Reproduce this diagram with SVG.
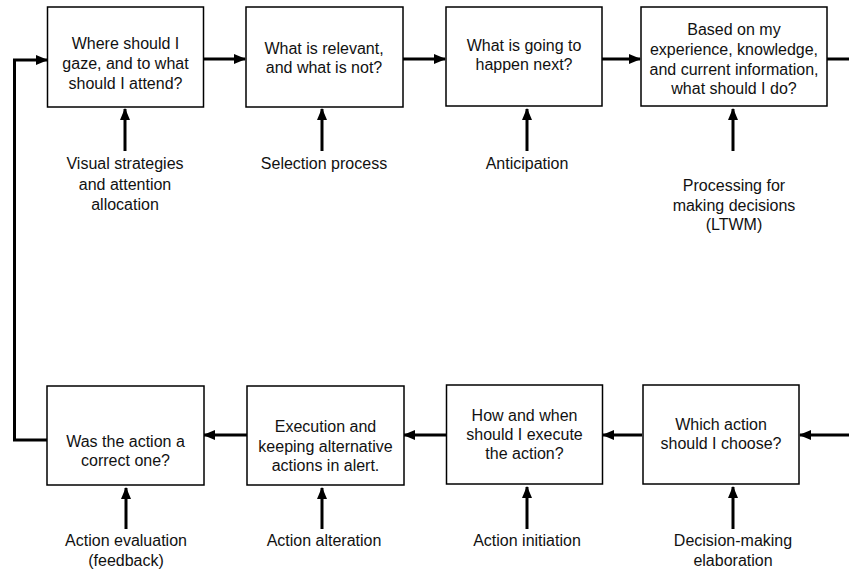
<svg xmlns="http://www.w3.org/2000/svg" width="849" height="571" viewBox="0 0 849 571">
<style>
.box{fill:#fff;stroke:#000;stroke-width:1.5}
.t{font-family:"Liberation Sans",Arial,sans-serif;font-size:16px;fill:#111;text-anchor:middle}
.c{fill:none;stroke:#000;stroke-width:3}
</style>
<defs>
<marker id="ah" viewBox="0 0 12 10" refX="11" refY="5" markerWidth="12" markerHeight="10" markerUnits="userSpaceOnUse" orient="auto">
<path d="M0,0 L12,5 L0,10 Z" fill="#000"/>
</marker>
</defs>
<rect width="849" height="571" fill="#fff"/>
<g id="connectors">
<line class="c" x1="204" y1="59" x2="245" y2="59" marker-end="url(#ah)"/>
<line class="c" x1="403" y1="59" x2="445" y2="59" marker-end="url(#ah)"/>
<line class="c" x1="602" y1="59" x2="640" y2="59" marker-end="url(#ah)"/>
<line class="c" x1="827" y1="59" x2="849" y2="59"/>
<line class="c" x1="849" y1="435" x2="800" y2="435" marker-end="url(#ah)"/>
<line class="c" x1="642" y1="435" x2="603" y2="435" marker-end="url(#ah)"/>
<line class="c" x1="446" y1="435" x2="404" y2="435" marker-end="url(#ah)"/>
<line class="c" x1="247" y1="435" x2="204" y2="435" marker-end="url(#ah)"/>
<polyline class="c" points="47,440 14.5,440 14.5,60 47,60" marker-end="url(#ah)"/>
<line class="c" x1="125" y1="151" x2="125" y2="109" marker-end="url(#ah)"/>
<line class="c" x1="322" y1="151" x2="322" y2="109" marker-end="url(#ah)"/>
<line class="c" x1="527" y1="151" x2="527" y2="109" marker-end="url(#ah)"/>
<line class="c" x1="733" y1="151" x2="733" y2="109" marker-end="url(#ah)"/>
<line class="c" x1="126" y1="529" x2="126" y2="488" marker-end="url(#ah)"/>
<line class="c" x1="322" y1="529" x2="322" y2="488" marker-end="url(#ah)"/>
<line class="c" x1="527" y1="529" x2="527" y2="487" marker-end="url(#ah)"/>
<line class="c" x1="733" y1="529" x2="733" y2="487" marker-end="url(#ah)"/>
</g>
<g id="n1"><rect class="box" x="47.5" y="7" width="156" height="100"/>
<text class="t" x="125.5" y="49">Where should I</text><text class="t" x="125.5" y="69">gaze, and to what</text><text class="t" x="125.5" y="89">should I attend?</text></g>
<g id="n2"><rect class="box" x="246" y="7" width="157" height="100"/>
<text class="t" x="324" y="54">What is relevant,</text><text class="t" x="324" y="73">and what is not?</text></g>
<g id="n3"><rect class="box" x="446" y="7" width="156" height="99"/>
<text class="t" x="524" y="51">What is going to</text><text class="t" x="524" y="70">happen next?</text></g>
<g id="n4"><rect class="box" x="641" y="7" width="186" height="99"/>
<text class="t" x="734" y="35">Based on my</text><text class="t" x="734" y="55">experience, knowledge,</text><text class="t" x="734" y="75">and current information,</text><text class="t" x="734" y="94">what should I do?</text></g>
<g id="n5"><rect class="box" x="47" y="386" width="157" height="99"/>
<text class="t" x="125.5" y="447">Was the action a</text><text class="t" x="125.5" y="466">correct one?</text></g>
<g id="n6"><rect class="box" x="247" y="386" width="157" height="99"/>
<text class="t" x="325.5" y="432">Execution and</text><text class="t" x="325.5" y="452">keeping alternative</text><text class="t" x="325.5" y="471">actions in alert.</text></g>
<g id="n7"><rect class="box" x="446.5" y="385" width="156" height="99"/>
<text class="t" x="524.5" y="421">How and when</text><text class="t" x="524.5" y="440">should I execute</text><text class="t" x="524.5" y="459">the action?</text></g>
<g id="n8"><rect class="box" x="643" y="385" width="156" height="99"/>
<text class="t" x="721" y="430">Which action</text><text class="t" x="721" y="449">should I choose?</text></g>
<g id="l1"><text class="t" x="125" y="169">Visual strategies</text><text class="t" x="125" y="190">and attention</text><text class="t" x="125" y="210">allocation</text></g>
<g id="l2"><text class="t" x="324" y="169">Selection process</text></g>
<g id="l3"><text class="t" x="527" y="169">Anticipation</text></g>
<g id="l4"><text class="t" x="734" y="191">Processing for</text><text class="t" x="734" y="211">making decisions</text><text class="t" x="734" y="230">(LTWM)</text></g>
<g id="l5"><text class="t" x="126" y="546">Action evaluation</text><text class="t" x="126" y="566">(feedback)</text></g>
<g id="l6"><text class="t" x="324" y="546">Action alteration</text></g>
<g id="l7"><text class="t" x="527" y="546">Action initiation</text></g>
<g id="l8"><text class="t" x="733" y="546">Decision-making</text><text class="t" x="733" y="566">elaboration</text></g>
</svg>
